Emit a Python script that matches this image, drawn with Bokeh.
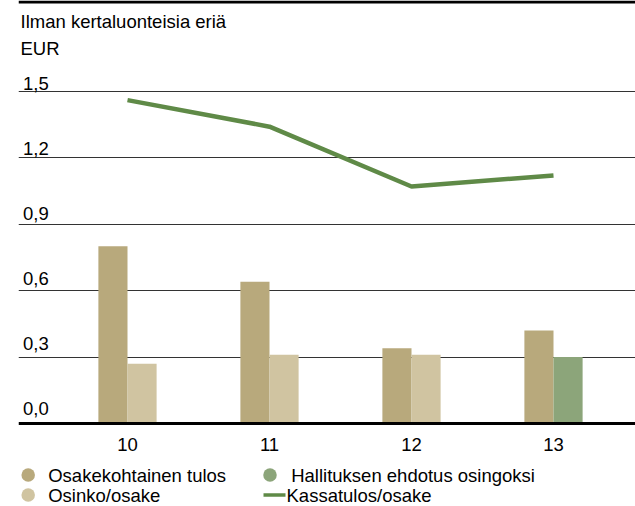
from bokeh.plotting import figure
from bokeh.models import ColumnDataSource, Span, FixedTicker, Range1d
from bokeh.transform import dodge
from bokeh.core.properties import value
from bokeh.embed import file_html
from bokeh.resources import INLINE

# ---------------- data ----------------
years = [10, 11, 12, 13]
year_labels = ["10", "11", "12", "13"]
eps = [0.80, 0.64, 0.34, 0.42]          # Osakekohtainen tulos
dividend_years = [10, 11, 12]
dividend = [0.27, 0.31, 0.31]           # Osinko/osake
proposal_years = [13]
proposal = [0.30]                       # Hallituksen ehdotus osingoksi
cash_eps = [1.46, 1.34, 1.07, 1.12]     # Kassatulos/osake
y_ticks = [0.0, 0.3, 0.6, 0.9, 1.2, 1.5]
y_tick_labels = ["0,0", "0,3", "0,6", "0,9", "1,2", "1,5"]
title_lines = ["Ilman kertaluonteisia eriä", "EUR"]
legend_labels = ["Osakekohtainen tulos", "Osinko/osake",
                 "Hallituksen ehdotus osingoksi", "Kassatulos/osake"]

# ---------------- style / layout ----------------
C_EPS = "#b8a97c"
C_DIV = "#d0c4a1"
C_PROP = "#8ca57a"
C_LINE = "#5f8a47"
FONT = value("Liberation Sans")
FSIZE = "18.5px"

W, H = 635, 506
LEFT = 18                    # frame left
PX_CAT = 142.0
PX_UNIT = 221.5
ZERO_Y = 423.0
FRAME_W = W - LEFT
MID = 6.0                    # baseline minus text middle

x_start = years[0] - (127 - LEFT) / PX_CAT
x_end = x_start + FRAME_W / PX_CAT
y_end = ZERO_Y / PX_UNIT
y_start = y_end - H / PX_UNIT


def fx(px):  # pixel x -> data x
    return x_start + (px - LEFT) / PX_CAT


def fy(py):  # pixel y -> data y
    return y_end - py / PX_UNIT


def fb(baseline_px):  # text baseline pixel -> data y of text middle
    return fy(baseline_px - MID)


p = figure(width=W, height=H,
           x_range=Range1d(x_start, x_end), y_range=Range1d(y_start, y_end),
           x_axis_location=None, y_axis_location=None,
           toolbar_location=None, output_backend="svg",
           min_border_left=LEFT, min_border_right=0,
           min_border_top=0, min_border_bottom=0,
           outline_line_color=None, background_fill_color="white",
           border_fill_color="white")

p.xgrid.visible = False
p.ygrid.ticker = FixedTicker(ticks=y_ticks[1:])
p.ygrid.grid_line_color = "#333333"
p.ygrid.grid_line_width = 1.2

BW = 0.205
src_eps = ColumnDataSource(dict(x=years, v=eps))
src_div = ColumnDataSource(dict(x=dividend_years, v=dividend))
src_prop = ColumnDataSource(dict(x=proposal_years, v=proposal))

p.vbar(x=dodge("x", -BW / 2), top="v", bottom=0, width=BW, source=src_eps,
       fill_color=C_EPS, line_color=None)
p.vbar(x=dodge("x", BW / 2), top="v", bottom=0, width=BW, source=src_div,
       fill_color=C_DIV, line_color=None)
p.vbar(x=dodge("x", BW / 2), top="v", bottom=0, width=BW, source=src_prop,
       fill_color=C_PROP, line_color=None)

p.line(x=years, y=cash_eps, line_color=C_LINE, line_width=4.5)

# zero line and top rule
p.add_layout(Span(location=0, dimension="width", line_color="black", line_width=3))
p.add_layout(Span(location=fy(1.5), dimension="width", line_color="black", line_width=3))

TXT = dict(text_font=FONT, text_font_size=FSIZE, text_baseline="middle",
           text_color="black")

# titles
p.text(x=[fx(20)] * 2, y=[fb(26.5), fb(53.5)], text=title_lines, text_align="left", **TXT)

# y tick labels (sit just above their gridlines)
label_y = [fb(414 - t * 217.0) for t in y_ticks]
p.text(x=[fx(22.5)] * len(y_ticks), y=label_y, text=y_tick_labels,
       text_align="left", **TXT)

# x tick labels
p.text(x=years, y=[fb(450)] * len(years), text=year_labels, text_align="center", **TXT)

# legend
r1, r2 = 481.0, 501.0
p.scatter(x=[fx(27.7), fx(27.7), fx(269.5)], y=[fy(r1 - 6.5), fy(r2 - 6.5), fy(r1 - 6.5)],
          size=13.5, marker="circle", fill_color=[C_EPS, C_DIV, C_PROP], line_color=None)
p.segment(x0=[fx(263)], y0=[fy(r2 - 6.5)], x1=[fx(285)], y1=[fy(r2 - 6.5)],
          line_color=C_LINE, line_width=3.5)
p.text(x=[fx(47.7), fx(47.7), fx(290.7), fx(286)], y=[fb(r1), fb(r2), fb(r1), fb(r2)],
       text=legend_labels, text_align="left", **TXT)

open("out.html", "w").write(file_html(p, INLINE))
